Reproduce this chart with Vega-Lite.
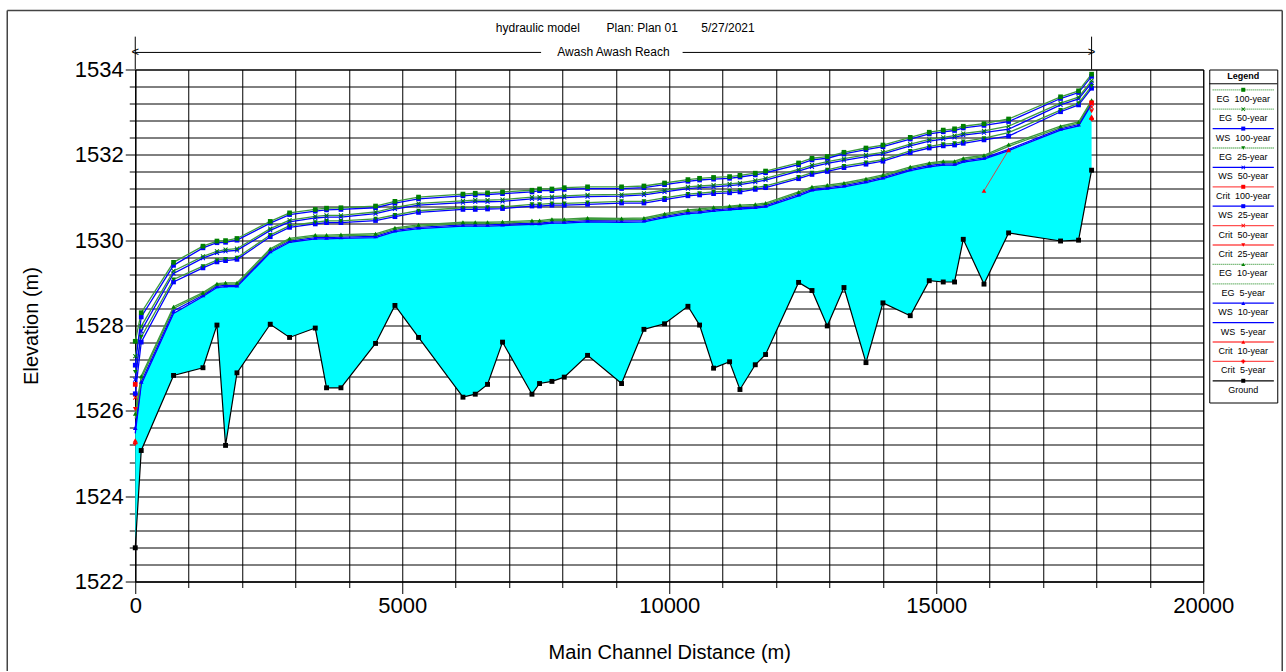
{
"$schema": "https://vega.github.io/schema/vega-lite/v6.json",
"autosize": {"type": "pad"},
"padding": {"left": 5.25, "top": 8.5, "right": 0, "bottom": 0},
"bounds": "flush",
"spacing": 6,
"background": "white",
"config": {"view": {"stroke": "#000", "strokeWidth": 1}, "font": "Liberation Sans"},
"datasets": {
"xs": [
{"x":0,"g":1522.79,"e100":1527.63,"w100":1527.07,"e50":1527.28,"w50":1526.73,"e25":1526.91,"w25":1526.40,"e10":1525.93,"e5":1525.82,"w10":1525.60,"w5":1525.47},
{"x":112,"g":1525.07,"e100":1528.30,"w100":1528.20,"e50":1527.98,"w50":1527.87,"e25":1527.73,"w25":1527.61,"e10":1526.81,"e5":1526.76,"w10":1526.68,"w5":1526.62},
{"x":717,"g":1526.83,"e100":1529.48,"w100":1529.41,"e50":1529.28,"w50":1529.22,"e25":1529.08,"w25":1529.02,"e10":1528.44,"e5":1528.40,"w10":1528.34,"w5":1528.28},
{"x":1268,"g":1527.01,"e100":1529.86,"w100":1529.82,"e50":1529.62,"w50":1529.58,"e25":1529.39,"w25":1529.35,"e10":1528.77,"e5":1528.74,"w10":1528.71,"w5":1528.68},
{"x":1530,"g":1528.01,"e100":1529.98,"w100":1529.94,"e50":1529.74,"w50":1529.70,"e25":1529.53,"w25":1529.49,"e10":1528.98,"e5":1528.95,"w10":1528.92,"w5":1528.89},
{"x":1691,"g":1525.19,"e100":1529.99,"w100":1529.95,"e50":1529.78,"w50":1529.74,"e25":1529.56,"w25":1529.52,"e10":1529.00,"e5":1528.97,"w10":1528.94,"w5":1528.91},
{"x":1905,"g":1526.89,"e100":1530.04,"w100":1530.00,"e50":1529.80,"w50":1529.76,"e25":1529.59,"w25":1529.55,"e10":1529.00,"e5":1528.97,"w10":1528.94,"w5":1528.91},
{"x":2528,"g":1528.03,"e100":1530.44,"w100":1530.40,"e50":1530.27,"w50":1530.23,"e25":1530.12,"w25":1530.08,"e10":1529.80,"e5":1529.77,"w10":1529.74,"w5":1529.71},
{"x":2890,"g":1527.72,"e100":1530.64,"w100":1530.60,"e50":1530.47,"w50":1530.43,"e25":1530.34,"w25":1530.30,"e10":1530.04,"e5":1530.01,"w10":1529.98,"w5":1529.95},
{"x":3371,"g":1527.94,"e100":1530.72,"w100":1530.68,"e50":1530.56,"w50":1530.52,"e25":1530.42,"w25":1530.38,"e10":1530.12,"e5":1530.09,"w10":1530.06,"w5":1530.03},
{"x":3582,"g":1526.54,"e100":1530.75,"w100":1530.71,"e50":1530.58,"w50":1530.54,"e25":1530.45,"w25":1530.41,"e10":1530.12,"e5":1530.09,"w10":1530.06,"w5":1530.03},
{"x":3852,"g":1526.54,"e100":1530.76,"w100":1530.72,"e50":1530.58,"w50":1530.54,"e25":1530.45,"w25":1530.41,"e10":1530.13,"e5":1530.10,"w10":1530.07,"w5":1530.04},
{"x":4500,"g":1527.58,"e100":1530.80,"w100":1530.76,"e50":1530.66,"w50":1530.62,"e25":1530.50,"w25":1530.46,"e10":1530.15,"e5":1530.12,"w10":1530.09,"w5":1530.06},
{"x":4863,"g":1528.47,"e100":1530.91,"w100":1530.87,"e50":1530.77,"w50":1530.73,"e25":1530.59,"w25":1530.55,"e10":1530.29,"e5":1530.26,"w10":1530.23,"w5":1530.20},
{"x":5305,"g":1527.72,"e100":1531.01,"w100":1530.97,"e50":1530.86,"w50":1530.82,"e25":1530.69,"w25":1530.65,"e10":1530.36,"e5":1530.33,"w10":1530.30,"w5":1530.27},
{"x":6137,"g":1526.32,"e100":1531.08,"w100":1531.04,"e50":1530.92,"w50":1530.88,"e25":1530.76,"w25":1530.72,"e10":1530.42,"e5":1530.39,"w10":1530.36,"w5":1530.33},
{"x":6367,"g":1526.39,"e100":1531.10,"w100":1531.06,"e50":1530.94,"w50":1530.90,"e25":1530.76,"w25":1530.72,"e10":1530.42,"e5":1530.39,"w10":1530.36,"w5":1530.33},
{"x":6597,"g":1526.62,"e100":1531.11,"w100":1531.07,"e50":1530.94,"w50":1530.90,"e25":1530.77,"w25":1530.73,"e10":1530.42,"e5":1530.39,"w10":1530.36,"w5":1530.33},
{"x":6878,"g":1527.61,"e100":1531.13,"w100":1531.09,"e50":1530.95,"w50":1530.91,"e25":1530.78,"w25":1530.74,"e10":1530.43,"e5":1530.40,"w10":1530.37,"w5":1530.34},
{"x":7429,"g":1526.39,"e100":1531.17,"w100":1531.13,"e50":1531.01,"w50":1530.97,"e25":1530.84,"w25":1530.80,"e10":1530.46,"e5":1530.43,"w10":1530.40,"w5":1530.37},
{"x":7571,"g":1526.64,"e100":1531.20,"w100":1531.16,"e50":1531.01,"w50":1530.97,"e25":1530.84,"w25":1530.80,"e10":1530.46,"e5":1530.43,"w10":1530.40,"w5":1530.37},
{"x":7803,"g":1526.69,"e100":1531.20,"w100":1531.16,"e50":1531.02,"w50":1530.98,"e25":1530.86,"w25":1530.82,"e10":1530.49,"e5":1530.46,"w10":1530.43,"w5":1530.40},
{"x":8034,"g":1526.79,"e100":1531.23,"w100":1531.19,"e50":1531.04,"w50":1531.00,"e25":1530.86,"w25":1530.82,"e10":1530.49,"e5":1530.46,"w10":1530.43,"w5":1530.40},
{"x":8470,"g":1527.30,"e100":1531.25,"w100":1531.21,"e50":1531.06,"w50":1531.02,"e25":1530.88,"w25":1530.84,"e10":1530.52,"e5":1530.49,"w10":1530.46,"w5":1530.43},
{"x":9107,"g":1526.64,"e100":1531.25,"w100":1531.21,"e50":1531.07,"w50":1531.03,"e25":1530.91,"w25":1530.87,"e10":1530.51,"e5":1530.48,"w10":1530.45,"w5":1530.42},
{"x":9526,"g":1527.91,"e100":1531.27,"w100":1531.23,"e50":1531.10,"w50":1531.06,"e25":1530.91,"w25":1530.87,"e10":1530.52,"e5":1530.49,"w10":1530.46,"w5":1530.43},
{"x":9912,"g":1528.04,"e100":1531.34,"w100":1531.30,"e50":1531.17,"w50":1531.13,"e25":1530.99,"w25":1530.95,"e10":1530.62,"e5":1530.59,"w10":1530.56,"w5":1530.53},
{"x":10350,"g":1528.45,"e100":1531.42,"w100":1531.38,"e50":1531.25,"w50":1531.21,"e25":1531.08,"w25":1531.04,"e10":1530.71,"e5":1530.68,"w10":1530.65,"w5":1530.62},
{"x":10568,"g":1528.01,"e100":1531.45,"w100":1531.41,"e50":1531.27,"w50":1531.23,"e25":1531.10,"w25":1531.06,"e10":1530.73,"e5":1530.70,"w10":1530.67,"w5":1530.64},
{"x":10830,"g":1527.00,"e100":1531.47,"w100":1531.43,"e50":1531.29,"w50":1531.25,"e25":1531.13,"w25":1531.09,"e10":1530.77,"e5":1530.74,"w10":1530.71,"w5":1530.68},
{"x":11130,"g":1527.15,"e100":1531.49,"w100":1531.45,"e50":1531.32,"w50":1531.28,"e25":1531.15,"w25":1531.11,"e10":1530.80,"e5":1530.77,"w10":1530.74,"w5":1530.71},
{"x":11324,"g":1526.50,"e100":1531.52,"w100":1531.48,"e50":1531.34,"w50":1531.30,"e25":1531.17,"w25":1531.13,"e10":1530.82,"e5":1530.79,"w10":1530.76,"w5":1530.73},
{"x":11611,"g":1527.08,"e100":1531.57,"w100":1531.53,"e50":1531.40,"w50":1531.36,"e25":1531.23,"w25":1531.19,"e10":1530.84,"e5":1530.81,"w10":1530.78,"w5":1530.75},
{"x":11804,"g":1527.32,"e100":1531.62,"w100":1531.58,"e50":1531.45,"w50":1531.41,"e25":1531.27,"w25":1531.23,"e10":1530.87,"e5":1530.84,"w10":1530.81,"w5":1530.78},
{"x":12422,"g":1529.01,"e100":1531.81,"w100":1531.77,"e50":1531.66,"w50":1531.62,"e25":1531.48,"w25":1531.44,"e10":1531.13,"e5":1531.10,"w10":1531.07,"w5":1531.04},
{"x":12673,"g":1528.82,"e100":1531.92,"w100":1531.88,"e50":1531.76,"w50":1531.72,"e25":1531.58,"w25":1531.54,"e10":1531.25,"e5":1531.22,"w10":1531.19,"w5":1531.16},
{"x":12959,"g":1527.99,"e100":1531.96,"w100":1531.92,"e50":1531.84,"w50":1531.80,"e25":1531.65,"w25":1531.61,"e10":1531.29,"e5":1531.26,"w10":1531.23,"w5":1531.20},
{"x":13272,"g":1528.89,"e100":1532.06,"w100":1532.02,"e50":1531.91,"w50":1531.87,"e25":1531.74,"w25":1531.70,"e10":1531.34,"e5":1531.31,"w10":1531.28,"w5":1531.25},
{"x":13684,"g":1527.13,"e100":1532.16,"w100":1532.12,"e50":1532.00,"w50":1531.96,"e25":1531.82,"w25":1531.78,"e10":1531.44,"e5":1531.41,"w10":1531.38,"w5":1531.35},
{"x":14002,"g":1528.53,"e100":1532.23,"w100":1532.19,"e50":1532.06,"w50":1532.02,"e25":1531.89,"w25":1531.85,"e10":1531.53,"e5":1531.50,"w10":1531.47,"w5":1531.44},
{"x":14513,"g":1528.23,"e100":1532.41,"w100":1532.37,"e50":1532.25,"w50":1532.21,"e25":1532.09,"w25":1532.05,"e10":1531.72,"e5":1531.69,"w10":1531.66,"w5":1531.63},
{"x":14869,"g":1529.05,"e100":1532.53,"w100":1532.49,"e50":1532.36,"w50":1532.32,"e25":1532.20,"w25":1532.16,"e10":1531.81,"e5":1531.78,"w10":1531.75,"w5":1531.72},
{"x":15131,"g":1529.02,"e100":1532.58,"w100":1532.54,"e50":1532.41,"w50":1532.37,"e25":1532.25,"w25":1532.21,"e10":1531.85,"e5":1531.82,"w10":1531.79,"w5":1531.76},
{"x":15343,"g":1529.02,"e100":1532.61,"w100":1532.57,"e50":1532.45,"w50":1532.41,"e25":1532.27,"w25":1532.23,"e10":1531.85,"e5":1531.82,"w10":1531.79,"w5":1531.76},
{"x":15506,"g":1530.02,"e100":1532.67,"w100":1532.63,"e50":1532.50,"w50":1532.46,"e25":1532.31,"w25":1532.27,"e10":1531.92,"e5":1531.89,"w10":1531.86,"w5":1531.83},
{"x":15894,"g":1528.97,"e100":1532.73,"w100":1532.69,"e50":1532.56,"w50":1532.52,"e25":1532.39,"w25":1532.35,"e10":1531.99,"e5":1531.96,"w10":1531.93,"w5":1531.90},
{"x":16355,"g":1530.17,"e100":1532.84,"w100":1532.78,"e50":1532.67,"w50":1532.60,"e25":1532.52,"w25":1532.44,"e10":1532.24,"e5":1532.20,"w10":1532.13,"w5":1532.10},
{"x":17328,"g":1529.98,"e100":1533.36,"w100":1533.32,"e50":1533.21,"w50":1533.17,"e25":1533.05,"w25":1533.01,"e10":1532.67,"e5":1532.64,"w10":1532.61,"w5":1532.58},
{"x":17665,"g":1530.00,"e100":1533.50,"w100":1533.46,"e50":1533.35,"w50":1533.31,"e25":1533.21,"w25":1533.17,"e10":1532.77,"e5":1532.74,"w10":1532.71,"w5":1532.68},
{"x":17909,"g":1531.64,"e100":1533.89,"w100":1533.84,"e50":1533.74,"w50":1533.69,"e25":1533.61,"w25":1533.56,"e10":1533.28,"e5":1533.25,"w10":1533.22,"w5":1533.19}
],
"crit": [
{"x":0,"v":1526.62,"k":"c100","s":"a"},{"x":17909,"v":1533.22,"k":"c100","s":"b"},
{"x":0,"v":1526.31,"k":"c50","s":"a"},{"x":17909,"v":1533.12,"k":"c50","s":"b"},
{"x":0,"v":1526.04,"k":"c25","s":"a"},{"x":17909,"v":1533.02,"k":"c25","s":"b"},
{"x":0,"v":1525.31,"k":"c10","s":"a"},{"x":15894,"v":1531.16,"k":"c10","s":"m"},{"x":16355,"v":1532.11,"k":"c10","s":"m"},{"x":17909,"v":1532.90,"k":"c10","s":"b"},
{"x":0,"v":1525.24,"k":"c5","s":"a"},{"x":17909,"v":1532.84,"k":"c5","s":"b"}
],
"leg": [
{"i":0,"k":"e100","lab":"EG\u00a0\u00a0100-year"},
{"i":1,"k":"e50","lab":"EG\u00a0\u00a050-year"},
{"i":2,"k":"w100","lab":"WS\u00a0\u00a0100-year"},
{"i":3,"k":"e25","lab":"EG\u00a0\u00a025-year"},
{"i":4,"k":"w50","lab":"WS\u00a0\u00a050-year"},
{"i":5,"k":"c100","lab":"Crit\u00a0\u00a0100-year"},
{"i":6,"k":"w25","lab":"WS\u00a0\u00a025-year"},
{"i":7,"k":"c50","lab":"Crit\u00a0\u00a050-year"},
{"i":8,"k":"c25","lab":"Crit\u00a0\u00a025-year"},
{"i":9,"k":"e10","lab":"EG\u00a0\u00a010-year"},
{"i":10,"k":"e5","lab":"EG\u00a0\u00a05-year"},
{"i":11,"k":"w10","lab":"WS\u00a0\u00a010-year"},
{"i":12,"k":"w5","lab":"WS\u00a0\u00a05-year"},
{"i":13,"k":"c10","lab":"Crit\u00a0\u00a010-year"},
{"i":14,"k":"c5","lab":"Crit\u00a0\u00a05-year"},
{"i":15,"k":"g","lab":"Ground"}
],
"reach": [{"a":0,"b":7600},{"a":10250,"b":17909}],
"ends": [{"x":0,"t":"<","al":"left"},{"x":17909,"t":">","al":"right"}]
},
"hconcat": [
{
"width": 1068,
"height": 512,
"layer": [
{"data": {"name": "xs"}, "mark": {"type": "area", "color": "#00ffff"},
 "encoding": {
  "x": {"field": "x", "type": "quantitative", "scale": {"domain": [0, 20000], "nice": false},
    "axis": {"title": "Main Channel Distance (m)", "values": [0,1000,2000,3000,4000,5000,6000,7000,8000,9000,10000,11000,12000,13000,14000,15000,16000,17000,18000,19000,20000], "tickCount": 100,
      "grid": true, "gridColor": "#000", "gridOpacity": 1, "gridWidth": 1, "domainColor": "#000", "tickColor": "#000",
      "tickSize": {"condition": {"test": "datum.value % 5000 == 0", "value": 12}, "value": 6},
      "labelExpr": "datum.value % 5000 == 0 ? format(datum.value, 'd') : ''",
      "labelFontSize": 22, "labelColor": "#000", "labelPadding": 2, "labelFlush": false, "labelOverlap": false, "labelFont": "Liberation Sans",
      "titleFontSize": 20, "titleFontWeight": "normal", "titleColor": "#000", "titlePadding": 26, "titleFont": "Liberation Sans"}},
  "y": {"field": "w5", "type": "quantitative", "scale": {"domain": [1522, 1534], "nice": false, "zero": false},
    "axis": {"title": "Elevation (m)", "values": [1522,1522.4,1522.8,1523.2,1523.6,1524,1524.4,1524.8,1525.2,1525.6,1526,1526.4,1526.8,1527.2,1527.6,1528,1528.4,1528.8,1529.2,1529.6,1530,1530.4,1530.8,1531.2,1531.6,1532,1532.4,1532.8,1533.2,1533.6,1534], "tickCount": 100,
      "grid": true, "gridColor": "#000", "gridOpacity": 1, "gridWidth": 1, "domainColor": "#000", "tickColor": "#000",
      "tickSize": {"condition": {"test": "datum.value % 2 == 0", "value": 10}, "value": 6},
      "labelExpr": "datum.value % 2 == 0 ? format(datum.value, 'd') : ''",
      "labelFontSize": 22, "labelColor": "#000", "labelPadding": 2, "labelFlush": false, "labelOverlap": false, "labelFont": "Liberation Sans",
      "titleFontSize": 20, "titleFontWeight": "normal", "titleColor": "#000", "titlePadding": 33, "titleFont": "Liberation Sans"}},
  "y2": {"field": "g"}
 }},
{"data": {"name": "xs"}, "transform": [{"fold": ["w5","w10","e5","e10","w25","e25","w50","e50","w100","e100"], "as": ["k","v"]}],
 "mark": {"type": "line", "strokeWidth": 1.3},
 "encoding": {
  "x": {"field": "x", "type": "quantitative"},
  "y": {"field": "v", "type": "quantitative"},
  "stroke": {"field": "k", "type": "nominal", "legend": null,
    "scale": {"domain": ["e100","e50","w100","e25","w50","c100","w25","c50","c25","e10","e5","w10","w5","c10","c5","g"],
      "range": ["#3d9a3d","#3d9a3d","#0000ff","#3d9a3d","#0000ff","#ff5050","#0000ff","#ff5050","#ff5050","#3d9a3d","#3d9a3d","#0000ff","#0000ff","#ff5050","#ff5050","#000000"]}}
 }},
{"data": {"name": "xs"}, "mark": {"type": "line", "color": "#000", "strokeWidth": 1.2},
 "encoding": {"x": {"field": "x", "type": "quantitative"}, "y": {"field": "g", "type": "quantitative"}}},
{"data": {"name": "xs"}, "transform": [{"fold": ["w5","w10","e5","e10","w25","e25","w50","e50","w100","e100"], "as": ["k","v"]}, {"filter": "datum.k != 'e5' && datum.k != 'w5'"}],
 "mark": {"type": "point", "filled": true, "size": 22, "opacity": 1},
 "encoding": {
  "x": {"field": "x", "type": "quantitative"},
  "y": {"field": "v", "type": "quantitative"},
  "fill": {"field": "k", "type": "nominal", "legend": null,
    "scale": {"domain": ["e100","e50","w100","e25","w50","c100","w25","c50","c25","e10","e5","w10","w5","c10","c5","g"],
      "range": ["#008000","#008000","#0000ff","#008000","#0000ff","#ff0000","#0000ff","#ff0000","#ff0000","#008000","#008000","#0000ff","#0000ff","#ff0000","#ff0000","#000000"]}},
  "shape": {"field": "k", "type": "nominal", "legend": null,
    "scale": {"domain": ["e100","e50","w100","e25","w50","c100","w25","c50","c25","e10","e5","w10","w5","c10","c5","g"],
      "range": ["square","M-1,-0.7L-0.7,-1L0,-0.3L0.7,-1L1,-0.7L0.3,0L1,0.7L0.7,1L0,0.3L-0.7,1L-1,0.7L-0.3,0Z","square","triangle-down","M-1,-0.7L-0.7,-1L0,-0.3L0.7,-1L1,-0.7L0.3,0L1,0.7L0.7,1L0,0.3L-0.7,1L-1,0.7L-0.3,0Z","square","square","M-1,-0.7L-0.7,-1L0,-0.3L0.7,-1L1,-0.7L0.3,0L1,0.7L0.7,1L0,0.3L-0.7,1L-1,0.7L-0.3,0Z","triangle-down","triangle-up","circle","triangle-up","circle","triangle-up","cross","square"]}}
 }},
{"data": {"name": "xs"}, "mark": {"type": "point", "filled": true, "size": 24, "shape": "square", "color": "#000", "opacity": 1},
 "encoding": {"x": {"field": "x", "type": "quantitative"}, "y": {"field": "g", "type": "quantitative"}}},
{"data": {"name": "crit"}, "mark": {"type": "line", "color": "#d04a4a", "strokeWidth": 1},
 "encoding": {"x": {"field": "x", "type": "quantitative"}, "y": {"field": "v", "type": "quantitative"}, "detail": [{"field": "k"}, {"field": "s"}]}},
{"data": {"name": "crit"}, "mark": {"type": "point", "filled": true, "size": 22, "opacity": 1},
 "encoding": {
  "x": {"field": "x", "type": "quantitative"},
  "y": {"field": "v", "type": "quantitative"},
  "fill": {"field": "k", "type": "nominal", "legend": null,
    "scale": {"domain": ["e100","e50","w100","e25","w50","c100","w25","c50","c25","e10","e5","w10","w5","c10","c5","g"],
      "range": ["#008000","#008000","#0000ff","#008000","#0000ff","#ff0000","#0000ff","#ff0000","#ff0000","#008000","#008000","#0000ff","#0000ff","#ff0000","#ff0000","#000000"]}},
  "shape": {"field": "k", "type": "nominal", "legend": null,
    "scale": {"domain": ["e100","e50","w100","e25","w50","c100","w25","c50","c25","e10","e5","w10","w5","c10","c5","g"],
      "range": ["square","M-1,-0.7L-0.7,-1L0,-0.3L0.7,-1L1,-0.7L0.3,0L1,0.7L0.7,1L0,0.3L-0.7,1L-1,0.7L-0.3,0Z","square","triangle-down","M-1,-0.7L-0.7,-1L0,-0.3L0.7,-1L1,-0.7L0.3,0L1,0.7L0.7,1L0,0.3L-0.7,1L-1,0.7L-0.3,0Z","square","square","M-1,-0.7L-0.7,-1L0,-0.3L0.7,-1L1,-0.7L0.3,0L1,0.7L0.7,1L0,0.3L-0.7,1L-1,0.7L-0.3,0Z","triangle-down","triangle-up","circle","triangle-up","circle","triangle-up","cross","square"]}}
 }},
{"data": {"name": "reach"}, "mark": {"type": "rule", "color": "#000", "strokeWidth": 1},
 "encoding": {"x": {"field": "a", "type": "quantitative"}, "x2": {"field": "b"}, "y": {"datum": 1534.4, "type": "quantitative"}}},
{"data": {"name": "ends"}, "mark": {"type": "rule", "color": "#000", "strokeWidth": 1},
 "encoding": {"x": {"field": "x", "type": "quantitative"}, "y": {"datum": 1534, "type": "quantitative"}, "y2": {"datum": 1534.77}}},
{"data": {"name": "ends"}, "mark": {"type": "text", "fontSize": 13, "baseline": "middle", "font": "Liberation Sans", "color": "#000"},
 "encoding": {"x": {"field": "x", "type": "quantitative"}, "y": {"datum": 1534.42, "type": "quantitative"}, "text": {"field": "t"}, "align": {"field": "al", "type": "nominal", "scale": null}}},
{"data": {"values": [{"lab": "Awash Awash Reach", "x": 8955}]}, "mark": {"type": "text", "fontSize": 12, "baseline": "middle", "align": "center", "font": "Liberation Sans", "color": "#000"},
 "encoding": {"x": {"field": "x", "type": "quantitative"}, "y": {"datum": 1534.4, "type": "quantitative"}, "text": {"field": "lab"}}},
{"data": {"values": [{"lab": "hydraulic model\u00a0\u00a0\u00a0\u00a0\u00a0\u00a0\u00a0\u00a0Plan: Plan 01\u00a0\u00a0\u00a0\u00a0\u00a0\u00a0\u00a05/27/2021", "x": 9176}]}, "mark": {"type": "text", "fontSize": 12, "baseline": "middle", "align": "center", "font": "Liberation Sans", "color": "#000"},
 "encoding": {"x": {"field": "x", "type": "quantitative"}, "y": {"datum": 1534.98, "type": "quantitative"}, "text": {"field": "lab"}}},
{"data": {"values": [{"x": -2397, "x2": 21479}]}, "mark": {"type": "rule", "color": "#444", "strokeWidth": 1.5},
 "encoding": {"x": {"field": "x", "type": "quantitative"}, "x2": {"field": "x2"}, "y": {"datum": 1535.38, "type": "quantitative"}}},
{"data": {"values": [{"x": -2397}, {"x": 21479}]}, "mark": {"type": "rule", "color": "#444", "strokeWidth": 1.5},
 "encoding": {"x": {"field": "x", "type": "quantitative"}, "y": {"datum": 1519.9, "type": "quantitative"}, "y2": {"datum": 1535.38}}}
]
},
{
"width": 68,
"height": 333,
"layer": [
{"data": {"name": "leg"}, "mark": {"type": "rule", "strokeWidth": 1.3},
 "encoding": {
  "x": {"datum": 0.05, "type": "quantitative", "scale": {"domain": [0, 1], "nice": false}, "axis": null},
  "x2": {"datum": 0.95},
  "y": {"field": "i", "type": "quantitative", "scale": {"domain": [-1.046, 16.119], "reverse": true, "nice": false, "zero": false}, "axis": null},
  "stroke": {"field": "k", "type": "nominal", "legend": null,
    "scale": {"domain": ["e100","e50","w100","e25","w50","c100","w25","c50","c25","e10","e5","w10","w5","c10","c5","g"],
      "range": ["#3d9a3d","#3d9a3d","#0000ff","#3d9a3d","#0000ff","#ff5050","#0000ff","#ff5050","#ff5050","#3d9a3d","#3d9a3d","#0000ff","#0000ff","#ff5050","#ff5050","#000000"]}},
  "strokeDash": {"condition": {"test": "indexof(datum.k, 'e') == 0", "value": [1, 1]}, "value": [1, 0]}
 }},
{"data": {"name": "leg"}, "transform": [{"filter": "datum.k != 'e5' && datum.k != 'w5'"}], "mark": {"type": "point", "filled": true, "size": 16, "opacity": 1},
 "encoding": {
  "x": {"datum": 0.5, "type": "quantitative", "axis": null},
  "y": {"field": "i", "type": "quantitative", "axis": null},
  "fill": {"field": "k", "type": "nominal", "legend": null,
    "scale": {"domain": ["e100","e50","w100","e25","w50","c100","w25","c50","c25","e10","e5","w10","w5","c10","c5","g"],
      "range": ["#008000","#008000","#0000ff","#008000","#0000ff","#ff0000","#0000ff","#ff0000","#ff0000","#008000","#008000","#0000ff","#0000ff","#ff0000","#ff0000","#000000"]}},
  "shape": {"field": "k", "type": "nominal", "legend": null,
    "scale": {"domain": ["e100","e50","w100","e25","w50","c100","w25","c50","c25","e10","e5","w10","w5","c10","c5","g"],
      "range": ["square","M-1,-0.7L-0.7,-1L0,-0.3L0.7,-1L1,-0.7L0.3,0L1,0.7L0.7,1L0,0.3L-0.7,1L-1,0.7L-0.3,0Z","square","triangle-down","M-1,-0.7L-0.7,-1L0,-0.3L0.7,-1L1,-0.7L0.3,0L1,0.7L0.7,1L0,0.3L-0.7,1L-1,0.7L-0.3,0Z","square","square","M-1,-0.7L-0.7,-1L0,-0.3L0.7,-1L1,-0.7L0.3,0L1,0.7L0.7,1L0,0.3L-0.7,1L-1,0.7L-0.3,0Z","triangle-down","triangle-up","circle","triangle-up","circle","triangle-up","cross","square"]}}
 }},
{"data": {"name": "leg"}, "mark": {"type": "text", "fontSize": 9, "dy": 9, "baseline": "middle", "align": "center", "font": "Liberation Sans", "color": "#000"},
 "encoding": {"x": {"datum": 0.5, "type": "quantitative", "axis": null}, "y": {"field": "i", "type": "quantitative", "axis": null}, "text": {"field": "lab"}}},
{"data": {"values": [{"lab": "Legend"}]}, "mark": {"type": "text", "fontSize": 9, "fontWeight": "bold", "baseline": "middle", "align": "center", "font": "Liberation Sans", "color": "#000"},
 "encoding": {"x": {"datum": 0.5, "type": "quantitative", "axis": null}, "y": {"datum": -0.7, "type": "quantitative", "axis": null}, "text": {"field": "lab"}}},
{"data": {"values": [{}]}, "mark": {"type": "rule", "color": "#000", "strokeWidth": 1},
 "encoding": {"x": {"datum": 0, "type": "quantitative", "axis": null}, "x2": {"datum": 1}, "y": {"datum": -0.31, "type": "quantitative", "axis": null}}}
]
}
]
}
